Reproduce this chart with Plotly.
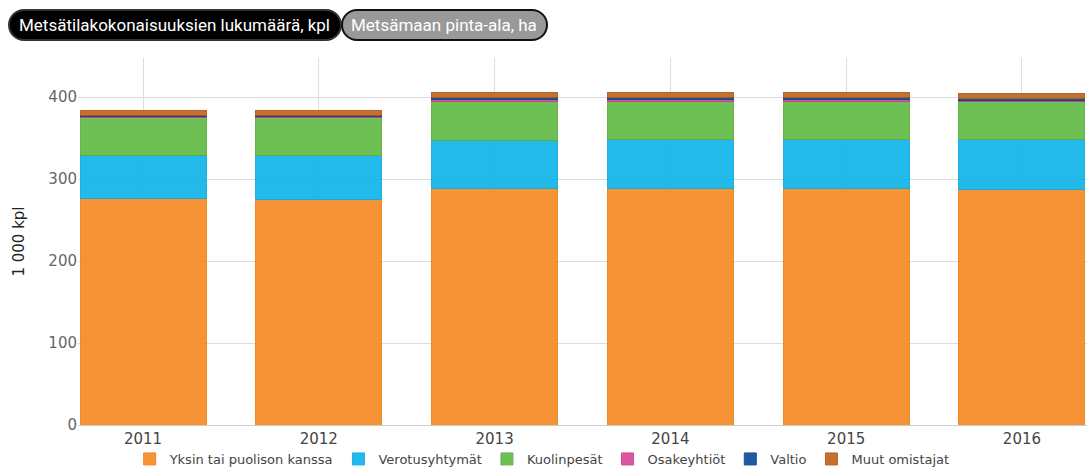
import plotly.graph_objects as go

years = ["2011", "2012", "2013", "2014", "2015", "2016"]
yksin = [276, 275, 289, 289, 288, 287]
verotus = [53, 54, 58, 59, 60, 61]
kuolin = [46, 46, 48, 47, 47, 46]
osake = [1.5, 1.5, 2, 2, 2, 2]
valtio = [1.5, 1.5, 2, 2, 2, 2]
muut = [6, 6, 6, 6, 6, 6]

series_names = ["Yksin tai puolison kanssa", "Verotusyhtymät", "Kuolinpesät",
                "Osakeyhtiöt", "Valtio", "Muut omistajat"]
series_vals = [yksin, verotus, kuolin, osake, valtio, muut]
colors = ["#F58A25", "#10B5EA", "#62BA46", "#D9489A", "#0B4C9A", "#C2641E"]
borders = ["#F07E14", "#0AACE0", "#58B03C", "#C93E8C", "#08418A", "#B05A18"]

W, H = 1087, 474
ML, MR, MT, MB = 78, 0, 58, 49
PW, PH = W - ML - MR, H - MT - MB

fig = go.Figure()
for name, vals, c, bc in zip(series_names, series_vals, colors, borders):
    fig.add_trace(go.Bar(x=years, y=vals, name=name, marker=dict(color=c, line=dict(color=bc, width=1)),
                         opacity=0.92))

def px2paper(x, y):
    return (x - ML) / PW, (H - MB - y) / PH

def pill(x0, y0, x1, y1):
    r = (y1 - y0) / 2
    k = 0.5523 * r
    def P(x, y):
        a, b = px2paper(x, y)
        return f"{a:.5f},{b:.5f}"
    d = f"M {P(x0 + r, y0)} L {P(x1 - r, y0)} "
    d += f"C {P(x1 - r + k, y0)} {P(x1, y0 + r - k)} {P(x1, y0 + r)} "
    d += f"C {P(x1, y0 + r + k)} {P(x1 - r + k, y1)} {P(x1 - r, y1)} "
    d += f"L {P(x0 + r, y1)} "
    d += f"C {P(x0 + r - k, y1)} {P(x0, y0 + r + k)} {P(x0, y0 + r)} "
    d += f"C {P(x0, y0 + r - k)} {P(x0 + r - k, y0)} {P(x0 + r, y0)} Z"
    return d

shapes = [
    dict(type="path", xref="paper", yref="paper", path=pill(9, 10, 341, 40),
         fillcolor="#000000", line=dict(color="#333333", width=2), layer="above"),
    dict(type="path", xref="paper", yref="paper", path=pill(342, 10, 547, 40),
         fillcolor="#999999", line=dict(color="#111111", width=2), layer="above"),
]
bx1, by = px2paper(174, 25)
bx2, _ = px2paper(444, 25)
annotations = [
    dict(xref="paper", yref="paper", x=bx1, y=by, text="Metsätilakokonaisuuksien lukumäärä, kpl",
         showarrow=False, font=dict(family="Roboto", size=17, color="#ffffff"), xanchor="center", yanchor="middle"),
    dict(xref="paper", yref="paper", x=bx2, y=by, text="Metsämaan pinta-ala, ha",
         showarrow=False, font=dict(family="Roboto", size=17, color="#ffffff"), xanchor="center", yanchor="middle"),
]

fig.update_layout(
    width=W, height=H,
    margin=dict(l=ML, r=MR, t=MT, b=MB, autoexpand=False),
    barmode="stack", bargap=0.283,
    plot_bgcolor="#ffffff", paper_bgcolor="#ffffff",
    font=dict(family="DejaVu Sans", size=14, color="#555555"),
    shapes=shapes, annotations=annotations,
    legend=dict(orientation="h", x=0.46, xanchor="center", y=(425 - 474) / PH, yanchor="bottom",
                font=dict(family="DejaVu Sans", size=13, color="#444444"), traceorder="normal",
                itemwidth=30, tracegroupgap=0),
    xaxis=dict(type="category", range=[-0.37, 5.37], showgrid=True, gridcolor="#dddddd",
               tickfont=dict(family="DejaVu Sans", size=15, color="#444444"), ticks="",
               showline=True, linecolor="#cccccc"),
    yaxis=dict(range=[0, 447.6], tickvals=[0, 100, 200, 300, 400], gridcolor="#dddddd",
               tickfont=dict(family="DejaVu Sans", size=15, color="#666666"), zeroline=False,
               title=dict(text="1 000 kpl", font=dict(family="DejaVu Sans", size=15, color="#222222"), standoff=20)),
)

fig.write_html("out.html")
